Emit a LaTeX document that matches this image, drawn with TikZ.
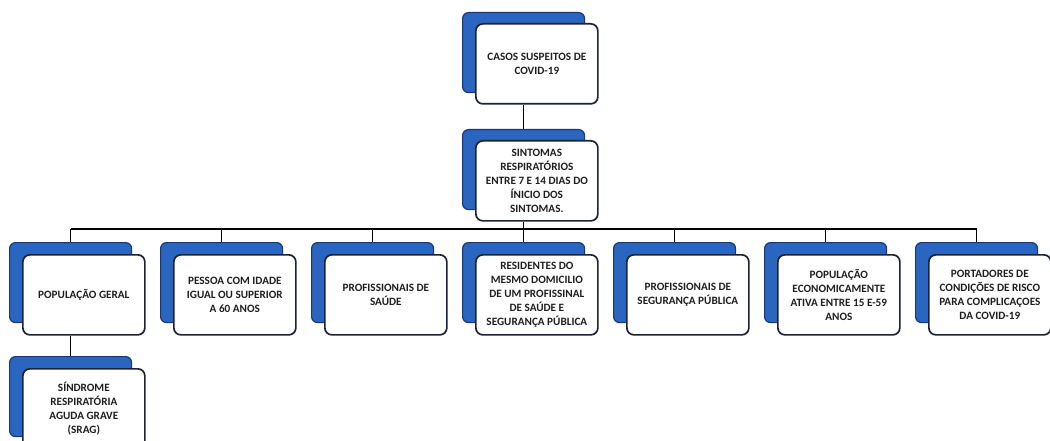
\documentclass[tikz,border=0pt]{standalone}
\usepackage{fontspec}
\setmainfont{Carlito}
\definecolor{backblue}{RGB}{42,102,192}
\definecolor{backedge}{RGB}{25,55,120}
\definecolor{frontedge}{RGB}{28,34,55}
\definecolor{txt}{RGB}{30,30,30}
\begin{document}
\begin{tikzpicture}[x=1pt,y=-1pt,
  backbox/.style={draw=backedge, fill=backblue, line width=1.2pt, rounded corners=6pt,
    minimum width=122pt, minimum height=80pt, inner sep=0pt, anchor=north west},
  frontbox/.style={draw=frontedge, fill=white, line width=1.7pt, rounded corners=7pt,
    minimum width=122pt, minimum height=80pt, inner sep=1pt, anchor=north west,
    align=center, font=\bfseries\fontsize{11.2}{14}\selectfont, text=txt},
  conn/.style={draw=black, line width=1.4pt}]
\useasboundingbox[fill=white] (0,0) rectangle (1050,441);
\coordinate (bar) at (0,229);

% top boxes
\node[backbox] (b1) at (462,12) {};
\node[frontbox] (f1) at (475,23) {CASOS SUSPEITOS DE\\COVID-19};
\node[backbox] (b2) at (462,129) {};
\node[frontbox] (f2) at (475,140) {SINTOMAS\\RESPIRATÓRIOS\\ENTRE 7 E 14 DIAS DO\\ÍNICIO DOS\\SINTOMAS.};

% children back boxes
\node[backbox] (c1b) at (9,242) {};
\node[backbox] (c2b) at (160,242) {};
\node[backbox] (c3b) at (311,242) {};
\node[backbox] (c4b) at (462,242) {};
\node[backbox] (c5b) at (613,242) {};
\node[backbox] (c6b) at (764,242) {};
\node[backbox] (c7b) at (915,242) {};
\node[backbox] (sb) at (9,356) {};

% connectors
\draw[conn] (f1.south -| b1.center) -- (b2.north);
\draw[conn] (f2.south -| b2.center) -- (bar -| b2.center);
\draw[conn] (bar -| c1b.north) -- (bar -| c7b.north);
\foreach \n in {c1b,c2b,c3b,c4b,c5b,c6b,c7b}
  \draw[conn] (bar -| \n.north) -- (\n.north);

% children front boxes
\node[frontbox] (c1f) at (22,254) {POPULAÇÃO GERAL};
\node[frontbox] (c2f) at (173,254) {PESSOA COM IDADE\\IGUAL OU SUPERIOR\\A 60 ANOS};
\node[frontbox] (c3f) at (324,254) {PROFISSIONAIS DE\\SAÚDE};
\node[frontbox] (c4f) at (475,254) {RESIDENTES DO\\MESMO DOMICILIO\\DE UM PROFISSINAL\\DE SAÚDE E\\SEGURANÇA PÚBLICA};
\node[frontbox] (c5f) at (626,254) {PROFISSIONAIS DE\\SEGURANÇA PÚBLICA};
\node[frontbox] (c6f) at (777,254) {POPULAÇÃO\\ECONOMICAMENTE\\ATIVA ENTRE 15 E-59\\ANOS};
\node[frontbox] (c7f) at (928,254) {PORTADORES DE\\CONDIÇÕES DE RISCO\\PARA COMPLICAÇOES\\DA COVID-19};

\draw[conn] (c1f.south -| c1b.center) -- (sb.north);
\node[frontbox] (sf) at (22,368) {SÍNDROME\\RESPIRATÓRIA\\AGUDA GRAVE\\(SRAG)};
\end{tikzpicture}
\end{document}
